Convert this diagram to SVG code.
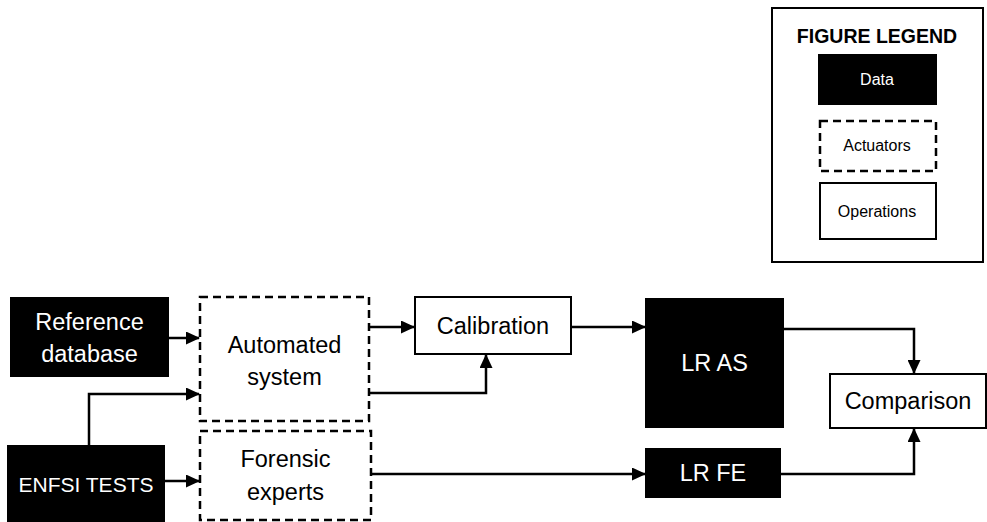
<svg xmlns="http://www.w3.org/2000/svg" width="987" height="522" viewBox="0 0 987 522">
<defs>
<style>
text{font-family:"Liberation Sans",Arial,sans-serif;text-anchor:middle}
.data{fill:#000;stroke:none}
.act{fill:#fff;stroke:#000;stroke-width:2.5;stroke-dasharray:8 5}
.op{fill:#fff;stroke:#000;stroke-width:2}
.wt{fill:#fff;font-size:23.5px}
.bt{fill:#000;font-size:23.5px}
.lg{font-size:16px}
.conn{fill:none;stroke:#000;stroke-width:2.5}
</style>
<marker id="ah" markerUnits="userSpaceOnUse" markerWidth="14" markerHeight="13" refX="13" refY="6.5" orient="auto">
<path d="M0,0 L14,6.5 L0,13 z" fill="#000"/>
</marker>
</defs>
<rect width="987" height="522" fill="#fff"/>
<g id="legend">
<rect x="772" y="8" width="211" height="254" fill="#fff" stroke="#000" stroke-width="2"/>
<text x="877" y="43" style="font-weight:bold;font-size:19.5px">FIGURE LEGEND</text>
<rect class="data" x="818" y="54" width="119" height="51"/>
<text x="877" y="85" class="lg" fill="#fff">Data</text>
<rect class="act" x="820" y="121" width="116" height="50"/>
<text x="877" y="151" class="lg">Actuators</text>
<rect class="op" x="820" y="183" width="116" height="56"/>
<text x="877" y="217" class="lg">Operations</text>
</g>
<g id="connectors">
<path class="conn" d="M169,338 H199" marker-end="url(#ah)"/>
<path class="conn" d="M89,445 V394 H199" marker-end="url(#ah)"/>
<path class="conn" d="M165,481 H199" marker-end="url(#ah)"/>
<path class="conn" d="M369,327 H414" marker-end="url(#ah)"/>
<path class="conn" d="M369,393 H486 V355" marker-end="url(#ah)"/>
<path class="conn" d="M571,327 H645" marker-end="url(#ah)"/>
<path class="conn" d="M371,474 H645" marker-end="url(#ah)"/>
<path class="conn" d="M784,329 H914 V373" marker-end="url(#ah)"/>
<path class="conn" d="M781,474 H914 V429" marker-end="url(#ah)"/>
</g>
<g id="reference-database">
<rect class="data" x="10" y="297" width="159" height="80"/>
<text x="89.5" y="330" class="wt">Reference</text>
<text x="89.5" y="362" class="wt">database</text>
</g>
<g id="enfsi-tests">
<rect class="data" x="7" y="445" width="158" height="80"/>
<text x="86" y="492" class="wt" style="font-size:21px">ENFSI TESTS</text>
</g>
<g id="automated-system">
<rect class="act" x="200" y="297" width="169" height="124"/>
<text x="284.5" y="353" class="bt">Automated</text>
<text x="284.5" y="385" class="bt">system</text>
</g>
<g id="forensic-experts">
<rect class="act" x="200" y="431" width="171" height="89"/>
<text x="285.5" y="467" class="bt">Forensic</text>
<text x="285.5" y="500" class="bt">experts</text>
</g>
<g id="calibration">
<rect class="op" x="415" y="297" width="156" height="57"/>
<text x="493" y="334" class="bt">Calibration</text>
</g>
<g id="lr-as">
<rect class="data" x="645" y="298" width="139" height="130"/>
<text x="714.5" y="371" class="wt">LR AS</text>
</g>
<g id="lr-fe">
<rect class="data" x="645" y="448" width="136" height="50"/>
<text x="713" y="481" class="wt">LR FE</text>
</g>
<g id="comparison">
<rect class="op" x="830" y="374" width="156" height="54"/>
<text x="908" y="409" class="bt">Comparison</text>
</g>
</svg>
